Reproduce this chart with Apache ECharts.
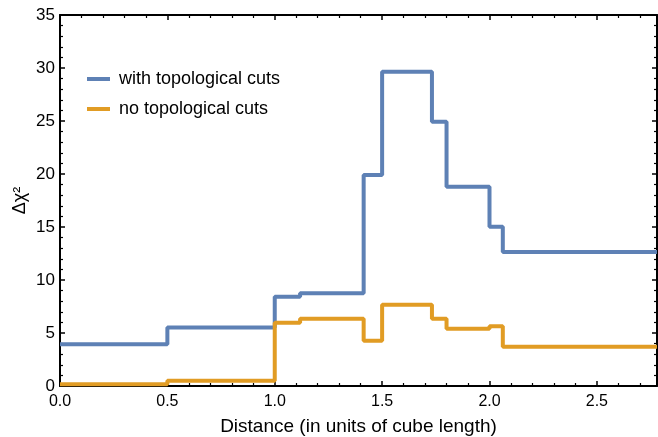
<!DOCTYPE html>
<html>
<head>
<meta charset="utf-8">
<script src="https://cdn.jsdelivr.net/npm/echarts@6/dist/echarts.min.js"></script>
<style>html,body{margin:0;padding:0;background:#fff}#c{width:658px;height:437px}</style>
</head>
<body>
<div id="c"></div>
<script>
// bin edges (distance, units of cube length) and the step values on each bin
const binEdges = [0, 0.5, 1.0, 1.118, 1.414, 1.5, 1.732, 1.8, 2.0, 2.062];
const xEnd = 2.78;
const withCuts = [3.95, 5.53, 8.42, 8.75, 19.9, 29.65, 24.93, 18.8, 15.03, 12.63];
const noCuts = [0.16, 0.5, 5.97, 6.35, 4.28, 7.67, 6.35, 5.41, 5.63, 3.7];
const seriesNames = ['with topological cuts', 'no topological cuts'];
const xTicks = [0, 0.5, 1.0, 1.5, 2.0, 2.5];

function stepData(vals) {
  const d = binEdges.map((e, i) => [e, vals[i]]);
  d.push([xEnd, vals[vals.length - 1]]);
  return d;
}

const font = 'Liberation Sans, Arial, Helvetica, sans-serif';
const chart = echarts.init(document.getElementById('c'));
const axisCommon = {
  axisLine: { show: true, onZero: false, lineStyle: { color: '#000', width: 2 } },
  axisTick: { show: true, inside: true, length: 5, lineStyle: { color: '#000', width: 1.5 } },
  minorTick: { show: true, splitNumber: 5, length: 3, lineStyle: { color: '#000', width: 1.2 } },
  splitLine: { show: false }
};
chart.setOption({
  animation: false,
  grid: { left: 60, right: 1, top: 15, bottom: 51, containLabel: false, outerBoundsMode: 'none' },
  legend: {
    orient: 'vertical', left: 82, top: 65, itemGap: 12,
    itemWidth: 23, itemHeight: 4, icon: 'rect',
    textStyle: { fontFamily: font, fontSize: 18, color: '#000', padding: [0, 0, 0, 4] },
    data: seriesNames
  },
  xAxis: [
    Object.assign({}, axisCommon, {
      type: 'value', min: 0, max: xEnd, interval: 0.5, position: 'bottom',
      name: 'Distance (in units of cube length)', nameLocation: 'middle', nameGap: 31,
      nameMoveOverlap: false,
      nameTextStyle: { fontFamily: font, fontSize: 19, color: '#000' },
      axisLabel: { fontFamily: font, fontSize: 16, color: '#000', margin: 8, showMaxLabel: false,
        formatter: v => xTicks.indexOf(v) >= 0 ? v.toFixed(1) : '' }
    }),
    Object.assign({}, axisCommon, {
      type: 'value', min: 0, max: xEnd, interval: 0.5, position: 'top',
      axisLabel: { show: false }
    })
  ],
  yAxis: [
    Object.assign({}, axisCommon, {
      type: 'value', min: 0, max: 35, interval: 5, position: 'left',
      name: 'Δχ²', nameLocation: 'middle', nameGap: 31, nameRotate: 90, nameMoveOverlap: false,
      nameTextStyle: { fontFamily: font, fontSize: 18, color: '#000' },
      axisLabel: { fontFamily: font, fontSize: 17, color: '#000', margin: 5 }
    }),
    Object.assign({}, axisCommon, {
      type: 'value', min: 0, max: 35, interval: 5, position: 'right',
      axisLabel: { show: false }
    })
  ],
  series: [
    { name: seriesNames[0], type: 'line', step: 'end', data: stepData(withCuts),
      showSymbol: false, symbol: 'none', lineStyle: { color: '#5e81b5', width: 4 }, itemStyle: { color: '#5e81b5' } },
    { name: seriesNames[1], type: 'line', step: 'end', data: stepData(noCuts),
      showSymbol: false, symbol: 'none', lineStyle: { color: '#e19c24', width: 4 }, itemStyle: { color: '#e19c24' } }
  ]
});
</script>
</body>
</html>
